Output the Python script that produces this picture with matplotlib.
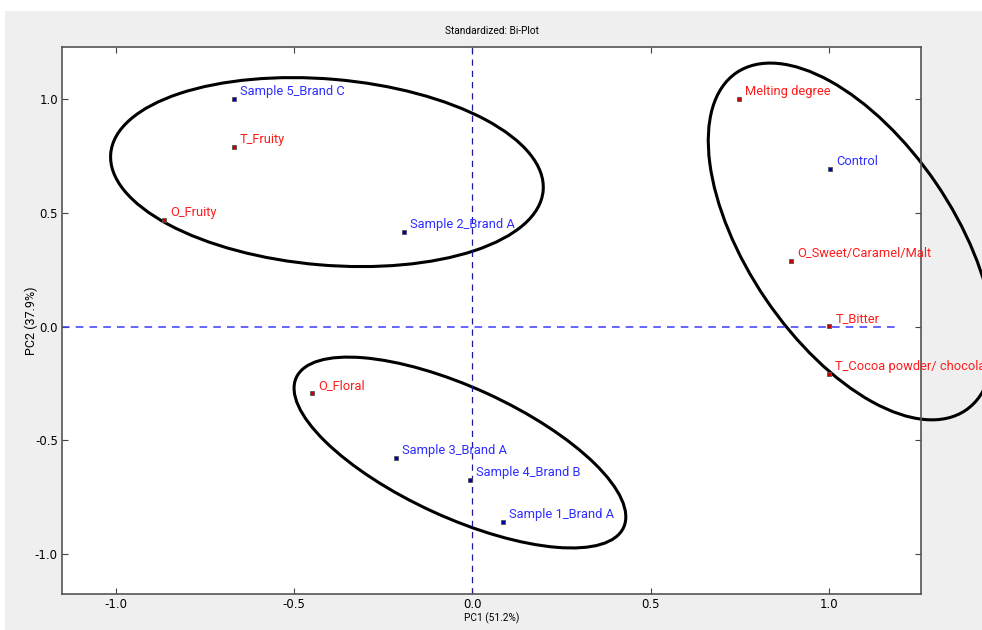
import matplotlib
matplotlib.use("Agg")
import matplotlib.pyplot as plt
import numpy as np
from matplotlib.patches import Ellipse, Rectangle
from matplotlib.transforms import ScaledTranslation

plt.rcParams["axes.unicode_minus"] = False

# samples (blue) and attributes (red) in PC1 / PC2 space
sample_names = ["Sample 5_Brand C", "Sample 2_Brand A", "Control", "Sample 3_Brand A",
                "Sample 4_Brand B", "Sample 1_Brand A"]
sample_pc1 = [-0.669, -0.192, 1.003, -0.215, -0.007, 0.086]
sample_pc2 = [1.000, 0.415, 0.692, -0.578, -0.675, -0.860]

attr_names = ["T_Fruity", "O_Fruity", "Melting degree", "O_Sweet/Caramel/Malt",
              "T_Bitter", "T_Cocoa powder/ chocolate", "O_Floral"]
attr_pc1 = [-0.669, -0.865, 0.747, 0.893, 1.000, 1.000, -0.450]
attr_pc2 = [0.789, 0.468, 1.000, 0.288, 0.002, -0.209, -0.292]

# group ellipses: centre (data), semi-axes (px), angle (deg)
ell_cx = [-0.408, -0.035, 1.062]
ell_cy = [0.679, -0.554, 0.374]
ell_a = [217, 180, 204]
ell_b = [93, 65, 103]
ell_ang = [-4.9, -24.6, -55.8]

fig = plt.figure(figsize=(9.82, 6.30), dpi=100)
fig.patch.set_facecolor("white")
fig.patches.append(Rectangle((5 / 982, 0), 1, 619 / 630, transform=fig.transFigure,
                             facecolor="#efefef", edgecolor="none", zorder=-10))

ax = fig.add_axes([62 / 982, 36 / 630, 859 / 982, 547 / 630])
ax.set_xlim(-1.151, 1.258)
ax.set_ylim(-1.176, 1.229)

ax.plot([-1.151, 1.19], [0, 0], "--", color="#3a3aff", lw=1.1, dashes=(5, 4))
ax.plot([0, 0], [-1.176, 1.229], "--", color="#1a1a9a", lw=0.9, dashes=(5, 4))

ax.plot(sample_pc1, sample_pc2, "s", ms=3.5, mfc="#0000aa", mec="#555555", mew=0.6)
ax.plot(attr_pc1, attr_pc2, "s", ms=3.5, mfc="#cc0000", mec="#555555", mew=0.6)

lab_font = dict(family=["Roboto", "DejaVu Sans"], fontsize=9.3)
for n, x, y in zip(sample_names, sample_pc1, sample_pc2):
    ax.annotate(n, (x, y), xytext=(4.5, 0.5), textcoords="offset points",
                color="#2d2dff", va="bottom", **lab_font)
for n, x, y in zip(attr_names, attr_pc1, attr_pc2):
    ax.annotate(n, (x, y), xytext=(4.5, 0.5), textcoords="offset points",
                color="#ff1a1a", va="bottom", **lab_font)

for cx, cy, a, b, ang in zip(ell_cx, ell_cy, ell_a, ell_b, ell_ang):
    tr = fig.dpi_scale_trans + ScaledTranslation(cx, cy, ax.transData)
    e = Ellipse((0, 0), 2 * a / 100, 2 * b / 100, angle=ang, transform=tr,
                fill=False, edgecolor="black", lw=2.2, clip_on=False)
    ax.add_patch(e)

ax.set_xticks([-1.0, -0.5, 0.0, 0.5, 1.0])
ax.set_yticks([-1.0, -0.5, 0.0, 0.5, 1.0])
ax.tick_params(direction="in", length=4, top=True, right=True, labelsize=8.5,
               color="#444444", pad=3)
for s in ax.spines.values():
    s.set_color("#555555")
    s.set_linewidth(1.2)

narrow = dict(family=["Roboto", "DejaVu Sans"], fontsize=7.3)
ax.set_title("Standardized: Bi-Plot", pad=9, **narrow)
ax.set_xlabel("PC1 (51.2%)", **narrow)
ax.xaxis.set_label_coords(0.5, -0.033)
ax.set_ylabel("PC2 (37.9%)", family=["Roboto", "DejaVu Sans"], fontsize=9)
ax.yaxis.set_label_coords(-0.028, 0.5)

fig.savefig("out.png", dpi=100, facecolor=fig.get_facecolor())
